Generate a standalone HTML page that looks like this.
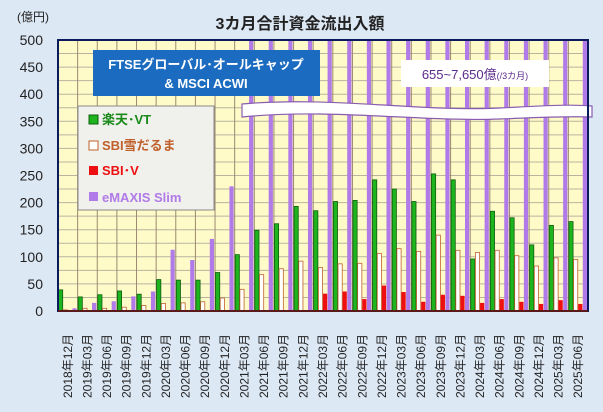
<!DOCTYPE html>
<html><head><meta charset="utf-8"><style>
body{margin:0;background:#dde8f5;}
svg{display:block;font-family:"Liberation Sans","Noto Sans CJK JP",sans-serif;}
</style></head><body>
<svg id="c" width="603" height="412" viewBox="0 0 603 412" xmlns="http://www.w3.org/2000/svg">
<rect width="603" height="412" fill="#dde8f5"/>
<rect x="58" y="40" width="530" height="271" fill="#fffbc8"/>
<g id="grid"></g>
<g id="bars"></g>
<path d="M242,104 C330,96 420,112 500,108 C540,106 570,104 592,106 L592,117 C560,116 530,118 500,119 C420,122 330,108 242,117 Z" fill="#fff" stroke="#8a5cb0" stroke-width="1.2"/>
<rect x="58" y="40" width="530" height="271" fill="none" stroke="#0a1a5c" stroke-width="2"/>
<line x1="58" y1="311" x2="588" y2="311" stroke="#5a1a1a" stroke-width="2"/>
<text x="300" y="29" font-size="16" font-weight="bold" text-anchor="middle" fill="#222">3カ月合計資金流出入額</text>
<text x="17" y="21" font-size="12" fill="#222">(億円)</text>
<g id="ylab" font-size="14" fill="#222" text-anchor="end"></g>
<g id="xlab" font-size="12" fill="#222"></g>
<rect x="93" y="50" width="227" height="46" fill="#1b6cc0"/>
<text x="206" y="69" font-size="13" font-weight="bold" fill="#fff" text-anchor="middle">FTSEグローバル･オールキャップ</text>
<text x="206" y="88" font-size="13" font-weight="bold" fill="#fff" text-anchor="middle">&amp; MSCI ACWI</text>
<rect x="401" y="60" width="148" height="27" fill="#fff"/>
<text x="475" y="79" font-size="13" fill="#5a2a8a" text-anchor="middle">655~7,650億<tspan font-size="9">(/3カ月)</tspan></text>
<rect x="78" y="106" width="136" height="104" fill="#f0f0ec" stroke="#888" stroke-width="1"/>
<rect x="89" y="115" width="9" height="9" fill="#1db41d" stroke="#106010"/>
<text x="102" y="124" font-size="13" font-weight="bold" fill="#1a8a1a">楽天･VT</text>
<rect x="89" y="141" width="9" height="9" fill="#fff" stroke="#c0602a"/>
<text x="102" y="150" font-size="13" font-weight="bold" fill="#c0602a">SBI雪だるま</text>
<rect x="89" y="166" width="9" height="9" fill="#ee1010"/>
<text x="102" y="175" font-size="13" font-weight="bold" fill="#ee1010">SBI･V</text>
<rect x="89" y="192" width="9" height="9" fill="#b07ae8"/>
<text x="102" y="202" font-size="13" font-weight="bold" fill="#b07ae8">eMAXIS Slim</text>
</svg>
<script>
const NS="http://www.w3.org/2000/svg";
function el(p,t,a,txt){const e=document.createElementNS(NS,t);for(const k in a)e.setAttribute(k,a[k]);if(txt)e.textContent=txt;document.getElementById(p).appendChild(e);return e;}
const X0=58,W=530/27,Y0=311,S=271/500;
for(let v=25;v<500;v+=25){const y=Y0-v*S;el('grid','line',{x1:58,x2:588,y1:y,y2:y,stroke:'#b8b4a0','stroke-width':1});}
for(let i=1;i<27;i++){const x=X0+i*W;el('grid','line',{x1:x,x2:x,y1:40,y2:311,stroke:'#9a8a70','stroke-width':1});}
for(let v=0;v<=500;v+=50){el('ylab','text',{x:43,y:Y0-v*S+5},String(v));}
const G=[39,26,30,37,31,58,57,57,71,104,149,161,193,185,202,204,242,225,202,253,242,96,184,172,122,158,165];
const O=[2,5,5,7,10,14,15,17,24,40,67,78,92,80,87,88,106,115,110,140,112,108,112,102,83,98,95];
const R=[0,0,0,0,0,0,0,0,0,0,0,0,0,32,36,22,47,35,17,30,28,15,22,17,13,20,13];
const P=[5,15,18,27,36,113,94,133,230,520,520,520,520,520,520,520,520,520,520,520,520,520,520,520,520,520,520];
const labs=[];
for(let i=0;i<27;i++){const m=(12+i*3-1)%12+1;const y=2018+Math.floor((11+i*3)/12);labs.push(y+"年"+String(m).padStart(2,'0')+"月");}
for(let i=0;i<27;i++){
 const x=X0+i*W;
 const b=(o,v,f,s)=>{if(v<=0)return;const h=Math.min(v,500)*S;el('bars','rect',{x:x+o,y:Y0-h,width:4.2,height:h,fill:f,stroke:s,'stroke-width':0.8});};
 b(0.5,G[i],'#1db41d','#0e5e0e');
 b(5.2,O[i],'#fff','#c0602a');
 b(9.8,R[i],'#ee1010','none');
 b(14.4,P[i],'#b07ae8','none');
 const cx=x+W/2+4;
 el('xlab','text',{x:0,y:0,transform:`translate(${cx},398) rotate(-90)`},labs[i]);
}
</script>
</body></html>
